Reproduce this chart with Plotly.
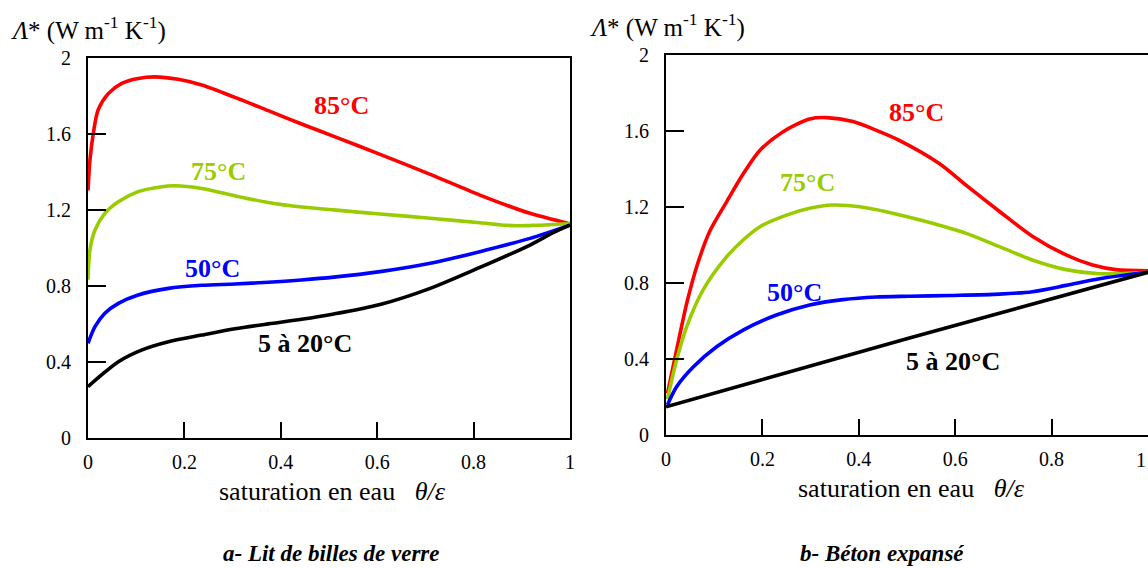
import plotly.graph_objects as go

# ---------------- Data ----------------
# Panel a - Lit de billes de verre
a_x_85 = [0.0, 0.004, 0.011, 0.021, 0.042, 0.070, 0.104, 0.139, 0.187, 0.236, 0.305, 0.374, 0.443,
          0.51, 0.606, 0.710, 0.813, 0.917, 1.0]
a_y_85 = [1.30, 1.46, 1.60, 1.724, 1.81, 1.864, 1.89, 1.898, 1.885, 1.855, 1.79, 1.72, 1.65,
          1.585, 1.49, 1.385, 1.276, 1.18, 1.125]

a_x_75 = [0.0, 0.004, 0.0145, 0.035, 0.063, 0.104, 0.153, 0.18, 0.236, 0.305, 0.374, 0.443, 0.51,
          0.606, 0.710, 0.813, 0.882, 0.931, 1.0]
a_y_75 = [0.83, 0.987, 1.092, 1.18, 1.241, 1.294, 1.32, 1.325, 1.311, 1.272, 1.237, 1.213, 1.198,
          1.176, 1.154, 1.13, 1.115, 1.117, 1.125]

a_x_50 = [0.0, 0.0145, 0.035, 0.063, 0.104, 0.167, 0.236, 0.305, 0.374, 0.443, 0.51,
          0.606, 0.710, 0.813, 0.917, 1.0]
a_y_50 = [0.496, 0.583, 0.654, 0.706, 0.75, 0.785, 0.801, 0.808, 0.817, 0.829, 0.844,
          0.873, 0.917, 0.978, 1.048, 1.118]

a_x_20 = [0.0, 0.028, 0.063, 0.111, 0.167, 0.236, 0.305, 0.374, 0.443, 0.51,
          0.606, 0.710, 0.813, 0.917, 0.965, 1.0]
a_y_20 = [0.267, 0.329, 0.399, 0.46, 0.504, 0.539, 0.572, 0.598, 0.622, 0.65,
          0.70, 0.785, 0.895, 1.013, 1.078, 1.118]

# Panel b - Béton expansé
b_x_85 = [0.003, 0.022, 0.043, 0.064, 0.091, 0.126, 0.16, 0.195, 0.243, 0.298, 0.333, 0.388,
          0.443, 0.484, 0.567, 0.623, 0.692, 0.760, 0.830, 0.885, 0.933, 1.0]
b_y_85 = [0.22, 0.449, 0.695, 0.89, 1.075, 1.23, 1.375, 1.50, 1.598, 1.665, 1.672, 1.651,
          1.598, 1.552, 1.43, 1.315, 1.178, 1.048, 0.949, 0.896, 0.872, 0.866]

b_x_75 = [0.003, 0.022, 0.043, 0.077, 0.126, 0.16, 0.195, 0.25, 0.298, 0.346, 0.402, 0.457,
          0.505, 0.553, 0.623, 0.692, 0.760, 0.830, 0.899, 1.0]
b_y_75 = [0.19, 0.396, 0.572, 0.765, 0.94, 1.028, 1.098, 1.159, 1.195, 1.212, 1.203, 1.177,
          1.148, 1.116, 1.063, 0.993, 0.923, 0.872, 0.85, 0.858]

b_x_50 = [0.003, 0.022, 0.057, 0.105, 0.16, 0.229, 0.298, 0.367, 0.436, 0.505,
          0.588, 0.692, 0.760, 0.830, 0.899, 1.0]
b_y_50 = [0.16, 0.256, 0.361, 0.466, 0.554, 0.633, 0.686, 0.714, 0.728, 0.732,
          0.736, 0.743, 0.756, 0.789, 0.824, 0.858]

b_x_20 = [0.0, 0.505, 1.0]
b_y_20 = [0.15, 0.512, 0.858]

x_ticks = [0, 0.2, 0.4, 0.6, 0.8, 1]
x_tick_labels = ["0", "0.2", "0.4", "0.6", "0.8", "1"]
y_ticks = [0, 0.4, 0.8, 1.2, 1.6, 2]
y_tick_labels = ["0", "0.4", "0.8", "1.2", "1.6", "2"]

series_labels = ["85°C", "75°C", "50°C", "5 à 20°C"]
colors = ["#FF0000", "#99CC00", "#0000FF", "#000000"]

y_title = "<i>Λ</i>* (W m<sup>-1</sup> K<sup>-1</sup>)"
x_title = "saturation en eau\u00a0\u00a0 <i>θ/ε</i>"
panel_titles = ["<b><i>a- Lit de billes de verre</i></b>", "<b><i>b- Béton expansé</i></b>"]

# ---------------- Figure ----------------
W, H = 1148, 568
SERIF = "Liberation Serif"

fig = go.Figure()

a_series = [(a_x_85, a_y_85), (a_x_75, a_y_75), (a_x_50, a_y_50), (a_x_20, a_y_20)]
b_series = [(b_x_85, b_y_85), (b_x_75, b_y_75), (b_x_50, b_y_50), (b_x_20, b_y_20)]

for (xs, ys), c, name in zip(a_series, colors, series_labels):
    fig.add_trace(go.Scatter(x=xs, y=ys, mode="lines", name=name, xaxis="x", yaxis="y",
                             line=dict(color=c, width=3.6, shape="spline", smoothing=0.8),
                             showlegend=False, hoverinfo="skip"))
for i, ((xs, ys), c, name) in enumerate(zip(b_series, colors, series_labels)):
    shape = "linear" if i == 3 else "spline"
    fig.add_trace(go.Scatter(x=xs, y=ys, mode="lines", name=name, xaxis="x2", yaxis="y2",
                             line=dict(color=c, width=3.6, shape=shape, smoothing=0.8),
                             showlegend=False, hoverinfo="skip"))

def xax(domain, anchor):
    return dict(domain=domain, anchor=anchor, range=[0, 1], tickvals=x_ticks, ticktext=x_tick_labels,
                ticks="inside", ticklen=16, tickwidth=2, tickcolor="black",
                showline=True, linewidth=2, linecolor="black", mirror=True,
                showgrid=False, zeroline=False, automargin=False, ticklabelstandoff=5,
                tickfont=dict(family=SERIF, size=20, color="black"))

def yax(domain, anchor):
    return dict(domain=domain, anchor=anchor, range=[0, 2], tickvals=y_ticks, ticktext=y_tick_labels,
                ticks="inside", ticklen=18, tickwidth=2, tickcolor="black",
                showline=True, linewidth=2, linecolor="black", mirror=True,
                showgrid=False, zeroline=False, automargin=False, ticklabelstandoff=11,
                tickfont=dict(family=SERIF, size=20, color="black"))

fig.update_layout(
    width=W, height=H,
    margin=dict(l=0, r=0, t=0, b=0),
    paper_bgcolor="white", plot_bgcolor="white",
    font=dict(family=SERIF, color="black"),
    xaxis=xax([88 / W, 570 / W], "y"),
    yaxis=yax([1 - 437.5 / H, 1 - 57.5 / H], "x"),
    xaxis2=xax([666 / W, 1.0], "y2"),
    yaxis2=yax([1 - 435.3 / H, 1 - 55.3 / H], "x2"),
)

annotations = []
# curve labels (data coords)
a_lab_pos = [(0.525, 1.75), (0.27, 1.40), (0.259, 0.89), (0.45, 0.497)]
b_lab_pos = [(0.52, 1.70), (0.294, 1.33), (0.267, 0.75), (0.596, 0.387)]
for (px, py), c, t in zip(a_lab_pos, colors, series_labels):
    annotations.append(dict(x=px, y=py, xref="x", yref="y", text=f"<b>{t}</b>", showarrow=False,
                            font=dict(family=SERIF, size=26, color=c)))
for (px, py), c, t in zip(b_lab_pos, colors, series_labels):
    annotations.append(dict(x=px, y=py, xref="x2", yref="y2", text=f"<b>{t}</b>", showarrow=False,
                            font=dict(family=SERIF, size=26, color=c)))

# last tick label of the right panel, partly cut by the figure edge
annotations.append(dict(x=1.0, y=1 - 460 / H, xref="paper", yref="paper", xanchor="right",
                        yanchor="middle", text=x_tick_labels[-1], showarrow=False,
                        font=dict(family=SERIF, size=20, color="black")))

# y titles
for x0, y0 in [(9, 28), (588, 25)]:
    annotations.append(dict(x=x0 / W, y=1 - y0 / H, xref="paper", yref="paper", xanchor="left",
                            yanchor="middle", text=y_title, showarrow=False,
                            font=dict(family=SERIF, size=25, color="black")))
# x titles
for x0, y0 in [(332, 491), (911, 488)]:
    annotations.append(dict(x=x0 / W, y=1 - y0 / H, xref="paper", yref="paper", xanchor="center",
                            yanchor="middle", text=x_title, showarrow=False,
                            font=dict(family=SERIF, size=26, color="black")))
# panel titles
for (x0, y0), t in zip([(331, 553), (882, 553)], panel_titles):
    annotations.append(dict(x=x0 / W, y=1 - y0 / H, xref="paper", yref="paper", xanchor="center",
                            yanchor="middle", text=t, showarrow=False,
                            font=dict(family=SERIF, size=23, color="black")))

fig.update_layout(annotations=annotations)

fig.write_html("out.html", config={"displayModeBar": False},
               post_script="document.body.style.margin='0';document.body.style.overflow='hidden';")
